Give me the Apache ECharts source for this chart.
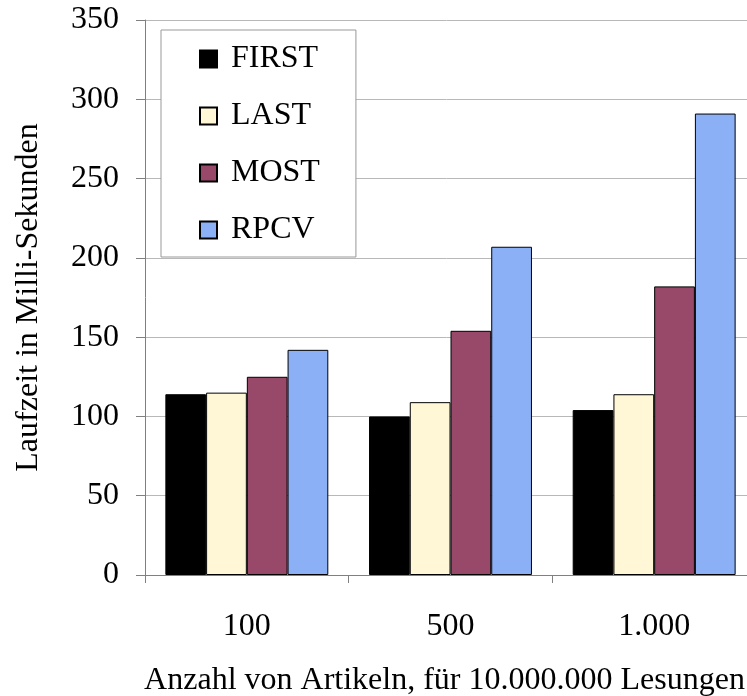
<!DOCTYPE html>
<html>
<head>
<meta charset="utf-8">
<script src="https://cdn.jsdelivr.net/npm/echarts@6/dist/echarts.min.js"></script>
<style>
  html, body { margin: 0; padding: 0; background: #fff; }
  #chart { width: 747px; height: 696px; }
</style>
</head>
<body>
<div id="chart"></div>
<script>
// Article counts (x categories)
const categories = ['100', '500', '1.000'];

// Runtime in milliseconds per strategy
const firstValues = [114, 100, 104];
const lastValues  = [115, 109, 114];
const mostValues  = [125, 154, 182];
const rpcvValues  = [142, 207, 291];

const seriesNames = ['FIRST', 'LAST', 'MOST', 'RPCV'];
const seriesColors = ['#000000', '#fff7d6', '#984868', '#8bb0f5'];

const FONT = "'Liberation Serif', 'Times New Roman', serif";
const FS = 32;

const chart = echarts.init(document.getElementById('chart'), null, { renderer: 'canvas' });

const valueSets = [firstValues, lastValues, mostValues, rpcvValues];

chart.setOption({
  animation: false,
  backgroundColor: '#ffffff',
  textStyle: { fontFamily: FONT, color: '#000' },
  grid: {
    left: 145, top: 20, right: -9, bottom: 121,
    containLabel: false,
    outerBoundsMode: 'none'
  },
  legend: {
    orient: 'vertical',
    left: 161,
    top: 30,
    padding: [13, 36, 11, 38],
    itemWidth: 17,
    itemHeight: 17,
    itemGap: 25,
    icon: 'rect',
    backgroundColor: '#ffffff',
    borderColor: '#999999',
    borderWidth: 1,
    textStyle: { fontFamily: FONT, fontSize: FS, lineHeight: 30, color: '#000', padding: [0, 0, 0, 9] },
    data: seriesNames
  },
  xAxis: {
    type: 'category',
    data: categories,
    name: 'Anzahl von Artikeln, für 10.000.000 Lesungen',
    nameLocation: 'middle',
    nameGap: 90,
    nameTextStyle: { fontFamily: FONT, fontSize: FS, color: '#000', padding: [0, 12, 0, 0] },
    axisLine: { show: true, lineStyle: { color: '#808080', width: 1 } },
    axisTick: { show: true, length: 8, alignWithLabel: false, lineStyle: { color: '#808080' } },
    axisLabel: { fontFamily: FONT, fontSize: FS, color: '#000', margin: 36 },
    splitLine: { show: false }
  },
  yAxis: {
    type: 'value',
    min: 0,
    max: 350,
    interval: 50,
    name: 'Laufzeit in Milli-Sekunden',
    nameLocation: 'middle',
    nameGap: 100,
    nameTextStyle: { fontFamily: FONT, fontSize: FS, color: '#000' },
    axisLine: { show: true, lineStyle: { color: '#808080', width: 1 } },
    axisTick: { show: true, length: 9, lineStyle: { color: '#808080' } },
    axisLabel: { fontFamily: FONT, fontSize: FS, color: '#000', margin: 26 },
    splitLine: { show: true, lineStyle: { color: '#b8b8b8', width: 1 } }
  },
  series: seriesNames.map((name, i) => ({
    name: name,
    type: 'bar',
    data: valueSets[i],
    barGap: '0%',
    barCategoryGap: '20%',
    itemStyle: { color: seriesColors[i], borderColor: '#000000', borderWidth: 1 }
  }))
});
</script>
</body>
</html>
